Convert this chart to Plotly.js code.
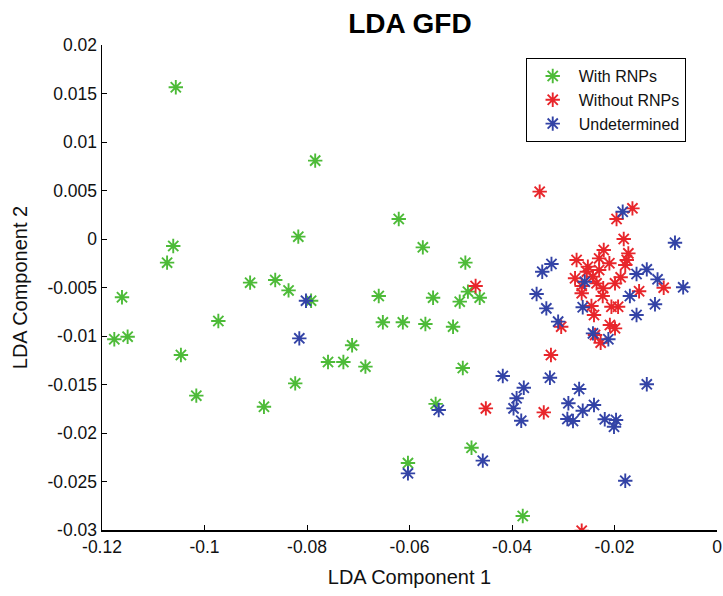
<!DOCTYPE html>
<html><head><meta charset="utf-8">
<script src="https://cdn.plot.ly/plotly-3.0.1.min.js"></script>
<style>body{margin:0;background:#fff}#chart{width:723px;height:596px}</style>
</head><body><div id="chart"></div>
<script>
const seriesNames = ["With RNPs", "Without RNPs", "Undetermined"];
const seriesColors = ["#4dbb38", "#e8262b", "#3343a6"];

const withX = [-0.1056,-0.0784,-0.0621,-0.0817,-0.1061,-0.1073,-0.0911,-0.0862,-0.0836,-0.1161,-0.1176,-0.1150,-0.0973,-0.1046,-0.1016,-0.0792,-0.0823,-0.0884,-0.0660,-0.0652,-0.0613,-0.0712,-0.0759,-0.0729,-0.0686,-0.0603,-0.0574,-0.0491,-0.0486,-0.0463,-0.0502,-0.0554,-0.0569,-0.0515,-0.0496,-0.0549,-0.0479,-0.0379];
const withY = [0.01564,0.00808,0.00206,0.00024,-0.00072,-0.00244,-0.0045,-0.00423,-0.0053,-0.0060,-0.01034,-0.01007,-0.00845,-0.01196,-0.01615,-0.00636,-0.01488,-0.01729,-0.00588,-0.00859,-0.00859,-0.01096,-0.01268,-0.01268,-0.01316,-0.0231,-0.00086,-0.00244,-0.00543,-0.00605,-0.00646,-0.00605,-0.00876,-0.00904,-0.0133,-0.0170,-0.02152,-0.02856];

const withoutX = [-0.0471,-0.0264,-0.0451,-0.0338,-0.0324,-0.0346,-0.0165,-0.0196,-0.0182,-0.0221,-0.0173,-0.0176,-0.0274,-0.0230,-0.0210,-0.0179,-0.0252,-0.0230,-0.0277,-0.0242,-0.0235,-0.0264,-0.0264,-0.0222,-0.0223,-0.0199,-0.0188,-0.0104,-0.0152,-0.0245,-0.0240,-0.0206,-0.0193,-0.0304,-0.0209,-0.0199,-0.0238,-0.0227,-0.0254];
const withoutY = [-0.00485,-0.03007,-0.01746,-0.01787,-0.01196,0.00488,0.00316,0.00206,0.0,-0.00113,-0.00148,-0.00216,-0.00216,-0.0020,-0.0025,-0.00268,-0.00285,-0.0032,-0.00405,-0.00388,-0.00457,-0.00485,-0.0056,-0.00508,-0.00588,-0.00457,-0.00395,-0.00502,-0.00539,-0.00691,-0.00784,-0.00698,-0.00698,-0.00904,-0.00887,-0.00921,-0.0099,-0.01069,-0.00337];

const undetX = [-0.0802,-0.0815,-0.0603,-0.0543,-0.0457,-0.0418,-0.0377,-0.0391,-0.0397,-0.0382,-0.0326,-0.0269,-0.0290,-0.0262,-0.0240,-0.0292,-0.0281,-0.0219,-0.0197,-0.0201,-0.0137,-0.0179,-0.0184,-0.0082,-0.0323,-0.0341,-0.0258,-0.0157,-0.0137,-0.0116,-0.0066,-0.0170,-0.0352,-0.0333,-0.0262,-0.0121,-0.0157,-0.0310,-0.0242,-0.0212];
const undetY = [-0.00636,-0.01024,-0.02416,-0.01763,-0.02285,-0.01412,-0.01533,-0.01642,-0.01746,-0.01873,-0.0143,-0.01546,-0.01694,-0.0177,-0.01711,-0.01856,-0.01876,-0.01859,-0.01866,-0.01935,-0.01498,-0.02492,0.00281,-0.00038,-0.00258,-0.00337,-0.0044,-0.00361,-0.00313,-0.00416,-0.00498,-0.00588,-0.00567,-0.00715,-0.00704,-0.00673,-0.00784,-0.00852,-0.00973,-0.01034];

const xTickVals = [-0.12,-0.1,-0.08,-0.06,-0.04,-0.02,0];
const xTickText = ["-0.12","-0.1","-0.08","-0.06","-0.04","-0.02","0"];
const yTickVals = [0.02,0.015,0.01,0.005,0,-0.005,-0.01,-0.015,-0.02,-0.025,-0.03];
const yTickText = ["0.02","0.015","0.01","0.005","0","-0.005","-0.01","-0.015","-0.02","-0.025","-0.03"];

const xs = [withX, withoutX, undetX];
const ys = [withY, withoutY, undetY];
const traces = seriesNames.map((n, i) => ({
  type: 'scatter', mode: 'markers', name: n, x: xs[i], y: ys[i],
  marker: {symbol: 'asterisk-open', size: 12, color: seriesColors[i], line: {color: seriesColors[i], width: 1.9}}
}));

const font = 'Arial, "Liberation Sans", sans-serif';
const layout = {
  width: 723, height: 596,
  margin: {l: 102, r: 6, t: 45, b: 66},
  paper_bgcolor: '#fff', plot_bgcolor: '#fff',
  font: {family: font, color: '#111', size: 17},
  title: {text: '<b>LDA GFD</b>', x: 0.567, xanchor: 'center', y: 0.961, yanchor: 'middle', font: {size: 28, family: font, color: '#000'}},
  showlegend: true,
  legend: {x: 0.689, y: 0.973, xanchor: 'left', yanchor: 'top', bordercolor: '#000', borderwidth: 1, bgcolor: '#fff', font: {size: 16, family: font}, itemwidth: 42},
  xaxis: {range: [-0.12, 0], tickvals: xTickVals, ticktext: xTickText, ticks: 'inside', ticklen: 5, tickcolor: '#000', showline: true, linecolor: '#000', linewidth: 1.5, showgrid: false, zeroline: false, mirror: false,
    title: {text: 'LDA Component 1', font: {size: 20}, standoff: 14}, tickfont: {size: 17.5}},
  yaxis: {range: [-0.03, 0.02], tickvals: yTickVals, ticktext: yTickText, ticks: 'inside', ticklen: 5, tickcolor: '#000', showline: true, linecolor: '#000', linewidth: 1.5, showgrid: false, zeroline: false, mirror: false,
    title: {text: 'LDA Component 2', font: {size: 20}, standoff: 14}, tickfont: {size: 17.5}}
};
Plotly.newPlot('chart', traces, layout, {displayModeBar: false, staticPlot: true});
</script></body></html>
